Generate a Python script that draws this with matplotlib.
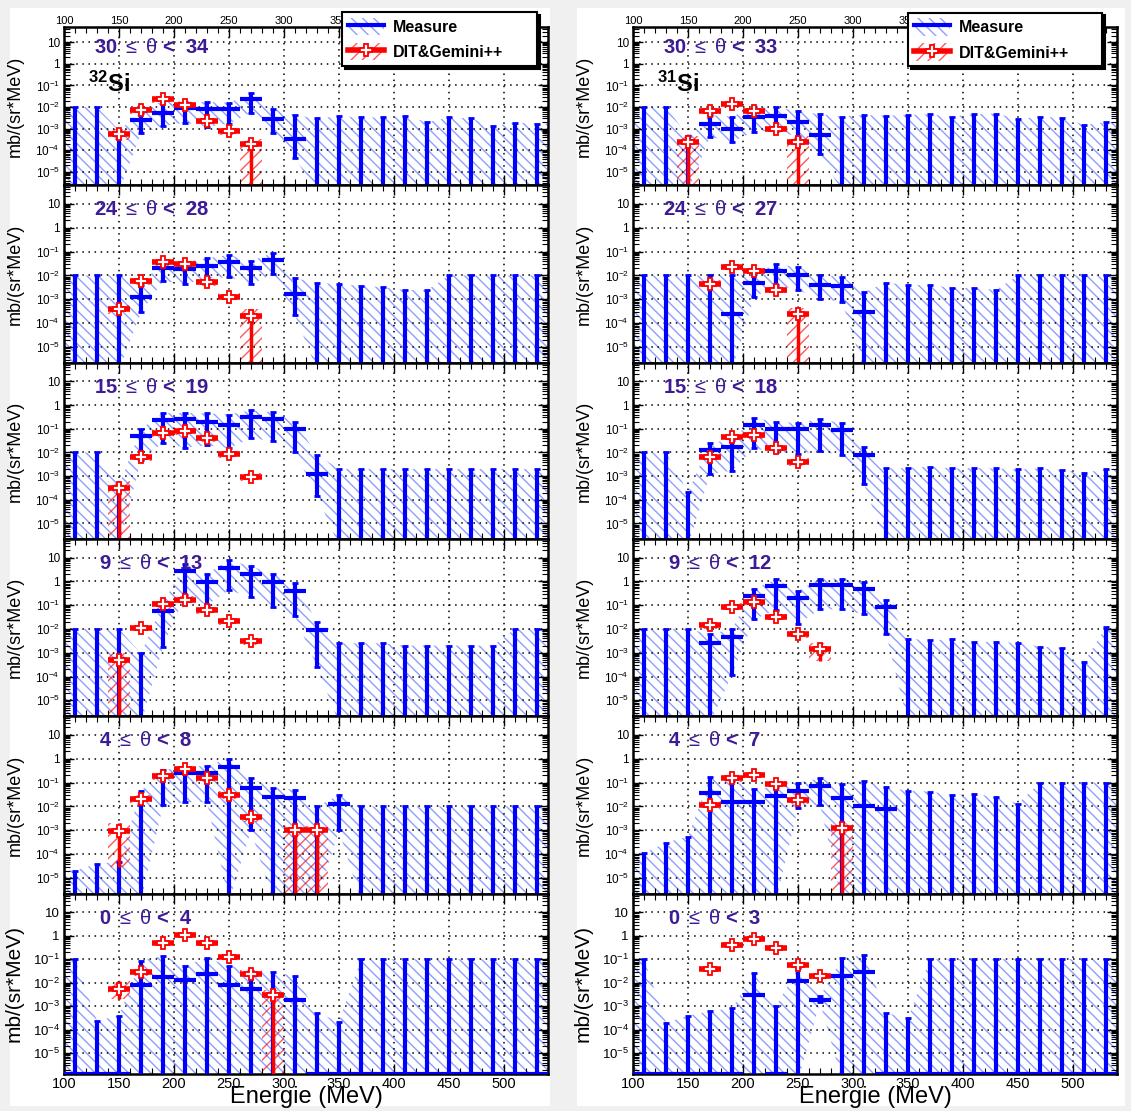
import numpy as np
import matplotlib
matplotlib.use('Agg')
import matplotlib.pyplot as plt
from matplotlib.patches import Patch, Rectangle
from matplotlib.lines import Line2D
from matplotlib.ticker import FixedLocator, LogLocator, FuncFormatter, MultipleLocator, NullFormatter

plt.rcParams['font.family'] = ['Liberation Sans', 'DejaVu Sans']
plt.rcParams['mathtext.fontset'] = 'custom'
plt.rcParams['mathtext.rm'] = 'Liberation Sans'
plt.rcParams['mathtext.it'] = 'Liberation Sans'
plt.rcParams['mathtext.bf'] = 'Liberation Sans:bold'
plt.rcParams['hatch.linewidth'] = 1.0

# bin centers (20 MeV bins from 100 to 540 MeV)
energy = np.arange(110, 540, 20)

# ---------------- 32Si (left column) ----------------
# 30 <= theta < 34
l1_val = [0, 0, 0, 2.4e-3, 5.5e-3, 8.7e-3, 8.5e-3, 7.8e-3, 2.3e-2, 2.7e-3, 3.5e-4, 0, 0, 0, 0, 0, 0, 0, 0, 0, 0, 0]
l1_lo = [0, 0, 0, 6e-4, 1.3e-3, 1.9e-3, 1.2e-3, 1.7e-3, 5.5e-3, 6e-4, 4.2e-5, 0, 0, 0, 0, 0, 0, 0, 0, 0, 0, 0]
l1_hi = [1e-2, 1e-2, 8.5e-4, 5.5e-3, 2.1e-2, 1.8e-2, 1.7e-2, 1.6e-2, 4.3e-2, 8.3e-3, 4.2e-3,
         3e-3, 3.8e-3, 3.3e-3, 3.3e-3, 4e-3, 2e-3, 3.3e-3, 3e-3, 1.3e-3, 1.9e-3, 1.7e-3]
l1_rx = [150, 170, 190, 210, 230, 250, 270]
l1_rv = [5.6e-4, 7.2e-3, 2.3e-2, 1.2e-2, 2.3e-3, 7.7e-4, 1.9e-4]
l1_rlo = [3e-4, 5e-3, 1.6e-2, 8e-3, 1.6e-3, 5e-4, 0]
l1_rhi = [1e-3, 1e-2, 3e-2, 1.6e-2, 3.2e-3, 1.1e-3, 3.5e-4]

# 24 <= theta < 28
l2_val = [0, 0, 0, 1.2e-3, 2.1e-2, 1.8e-2, 2.5e-2, 3.7e-2, 2e-2, 4.6e-2, 1.6e-3, 0, 0, 0, 0, 0, 0, 0, 0, 0, 0, 0]
l2_lo = [0, 0, 0, 2.9e-4, 5.8e-3, 4.4e-3, 7.5e-3, 8.5e-3, 4.4e-3, 1.1e-2, 2.2e-4, 0, 0, 0, 0, 0, 0, 0, 0, 0, 0, 0]
l2_hi = [1e-2, 1e-2, 1e-2, 3.9e-3, 4e-2, 3.6e-2, 5.2e-2, 7.2e-2, 4e-2, 8.8e-2, 7.5e-3,
         5e-3, 4.2e-3, 3.8e-3, 3.2e-3, 2.5e-3, 2.4e-3, 1e-2, 1e-2, 1e-2, 1e-2, 1e-2]
l2_rx = [150, 170, 190, 210, 230, 250, 270]
l2_rv = [4.1e-4, 5.8e-3, 3.6e-2, 2.9e-2, 5.2e-3, 1.3e-3, 2.1e-4]
l2_rlo = [2.5e-4, 4e-3, 2.6e-2, 2e-2, 3.8e-3, 9e-4, 0]
l2_rhi = [6e-4, 8e-3, 5e-2, 4e-2, 7e-3, 1.8e-3, 4e-4]

# 15 <= theta < 19
l3_val = [0, 0, 0, 5.1e-2, 0.245, 0.25, 0.2, 0.15, 0.32, 0.25, 0.1, 1.2e-3, 0, 0, 0, 0, 0, 0, 0, 0, 0, 0]
l3_lo = [0, 0, 0, 4.9e-3, 2.6e-2, 1.6e-2, 2e-2, 1.5e-2, 4e-2, 3e-2, 1e-2, 1.5e-4, 0, 0, 0, 0, 0, 0, 0, 0, 0, 0]
l3_hi = [1e-2, 1e-2, 4e-4, 0.1, 0.46, 0.46, 0.45, 0.4, 0.6, 0.5, 0.2, 8e-3,
         2e-3, 2e-3, 2e-3, 2e-3, 2e-3, 2e-3, 2e-3, 2e-3, 2e-3, 2e-3]
l3_rx = [150, 170, 190, 210, 230, 250, 270]
l3_rv = [3e-4, 6.6e-3, 6.8e-2, 8e-2, 4e-2, 8.5e-3, 9e-4]
l3_rlo = [0, 4.5e-3, 4.5e-2, 5.5e-2, 2.8e-2, 6e-3, 6e-4]
l3_rhi = [6e-4, 9e-3, 9e-2, 0.11, 5.5e-2, 1.2e-2, 1.3e-3]

# 9 <= theta < 13
l4_val = [0, 0, 0, 0, 5.6e-2, 2.8, 0.95, 3.8, 2.1, 0.98, 0.39, 8.9e-3, 0, 0, 0, 0, 0, 0, 0, 0, 0, 0]
l4_lo = [0, 0, 0, 0, 1.8e-3, 0.26, 0.1, 0.43, 0.21, 0.085, 0.035, 2.6e-4, 0, 0, 0, 0, 0, 0, 0, 0, 0, 0]
l4_hi = [1e-2, 1e-2, 1e-2, 9.3e-4, 0.12, 5.2, 2.1, 7.7, 4.3, 2.0, 0.82, 2e-2,
         2.5e-3, 2.5e-3, 2.5e-3, 2e-3, 2e-3, 2e-3, 2e-3, 2e-3, 1e-2, 1e-2]
l4_rx = [150, 170, 190, 210, 230, 250, 270]
l4_rv = [4.9e-4, 1.1e-2, 0.107, 0.17, 6e-2, 2.1e-2, 3.1e-3]
l4_rlo = [0, 8e-3, 7e-2, 0.12, 4.2e-2, 1.5e-2, 2.2e-3]
l4_rhi = [1e-3, 1.5e-2, 0.15, 0.24, 8e-2, 2.9e-2, 4.3e-3]

# 4 <= theta < 8
l5_val = [0, 0, 0, 2e-2, 0.18, 0.25, 0.26, 0.45, 6e-2, 2.5e-2, 2.2e-2, 0, 1.3e-2, 0, 0, 0, 0, 0, 0, 0, 0, 0]
l5_lo = [0, 0, 0, 0, 1.1e-2, 1.5e-2, 1.5e-2, 0, 1e-3, 0, 0, 0, 1e-3, 0, 0, 0, 0, 0, 0, 0, 0, 0]
l5_hi = [2.1e-5, 4e-5, 5e-5, 4.5e-2, 0.33, 0.45, 0.5, 1.0, 0.15, 6e-2, 5e-2, 1e-2,
         3e-2, 1e-2, 1e-2, 1e-2, 1e-2, 1e-2, 1e-2, 1e-2, 1e-2, 1e-2]
l5_rx = [150, 170, 190, 210, 230, 250, 270, 310, 330]
l5_rv = [9.8e-4, 2e-2, 0.19, 0.35, 0.15, 3e-2, 3.5e-3, 1e-3, 1e-3]
l5_rlo = [3e-5, 1.4e-2, 0.13, 0.25, 0.1, 2e-2, 2.3e-3, 0, 0]
l5_rhi = [2e-3, 3e-2, 0.27, 0.5, 0.21, 4.3e-2, 5e-3, 1.5e-3, 1.5e-3]

# 0 <= theta < 4
l6_val = [0, 0, 0, 7.8e-3, 1.7e-2, 1.25e-2, 2.4e-2, 8e-3, 5.6e-3, 3e-3, 1.8e-3, 0, 0, 0, 0, 0, 0, 0, 0, 0, 0, 0]
l6_lo = [0] * 22
l6_hi = [0.1, 2.4e-4, 4e-4, 8.7e-2, 0.14, 5.4e-2, 0.11, 5.4e-2, 3.3e-2, 2.8e-2, 2e-2, 5.2e-4,
         2.2e-4, 0.1, 0.1, 0.1, 0.1, 0.1, 0.1, 0.1, 0.1, 0.1]
l6_rx = [150, 170, 190, 210, 230, 250, 270, 290]
l6_rv = [5.6e-3, 2.8e-2, 0.5, 1.05, 0.47, 0.12, 2.4e-2, 3.1e-3]
l6_rlo = [2.1e-3, 2e-2, 0.4, 0.85, 0.38, 9e-2, 1.7e-2, 0]
l6_rhi = [1.2e-2, 4e-2, 0.62, 1.3, 0.58, 0.16, 3.4e-2, 5e-3]

# ---------------- 31Si (right column) ----------------
# 30 <= theta < 33
r1_val = [0, 0, 0, 1.7e-3, 1e-3, 3.3e-3, 4e-3, 2e-3, 5e-4, 0, 0, 0, 0, 0, 0, 0, 0, 0, 0, 0, 0, 0]
r1_lo = [0, 0, 0, 4.2e-4, 2.5e-4, 7.2e-4, 8e-4, 4.2e-4, 6.6e-5, 0, 0, 0, 0, 0, 0, 0, 0, 0, 0, 0, 0, 0]
r1_hi = [1e-2, 1e-2, 4.5e-4, 4.3e-3, 3.6e-3, 1e-2, 1e-2, 6.5e-3, 4.6e-3, 3.6e-3, 4.3e-3,
         4e-3, 4.3e-3, 4.6e-3, 3.6e-3, 4.7e-3, 5e-3, 2.8e-3, 3.6e-3, 3.2e-3, 1.5e-3, 2e-3]
r1_rx = [150, 170, 190, 210, 230, 250]
r1_rv = [2.5e-4, 6.8e-3, 1.4e-2, 6.8e-3, 1e-3, 2.5e-4]
r1_rlo = [0, 5e-3, 1e-2, 5e-3, 7e-4, 0]
r1_rhi = [4.5e-4, 9e-3, 1.9e-2, 9e-3, 1.4e-3, 4.5e-4]

# 24 <= theta < 27
r2_val = [0, 0, 0, 0, 2.4e-4, 5e-3, 1.5e-2, 1e-2, 4e-3, 3.5e-3, 3e-4, 0, 0, 0, 0, 0, 0, 0, 0, 0, 0, 0]
r2_lo = [0, 0, 0, 0, 0, 1.2e-3, 4e-3, 2.5e-3, 1e-3, 8e-4, 0, 0, 0, 0, 0, 0, 0, 0, 0, 0, 0, 0]
r2_hi = [1e-2, 1e-2, 1e-2, 1e-2, 1e-2, 1.2e-2, 3e-2, 2.2e-2, 1e-2, 9e-3, 2e-3,
         5e-3, 4e-3, 4e-3, 3e-3, 3e-3, 2.5e-3, 1e-2, 1e-2, 1e-2, 1e-2, 1e-2]
r2_rx = [170, 190, 210, 230, 250]
r2_rv = [4.5e-3, 2.3e-2, 1.5e-2, 2.5e-3, 2.5e-4]
r2_rlo = [3.2e-3, 1.7e-2, 1.1e-2, 1.8e-3, 0]
r2_rhi = [6.2e-3, 3.1e-2, 2e-2, 3.4e-3, 4.5e-4]

# 15 <= theta < 18
r3_val = [0, 0, 0, 1.3e-2, 1.7e-2, 0.14, 0.1, 0.095, 0.14, 0.085, 7.5e-3, 0, 0, 0, 0, 0, 0, 0, 0, 0, 0, 0]
r3_lo = [0, 0, 0, 1.2e-3, 1.7e-3, 1.5e-2, 1e-2, 9e-3, 1.1e-2, 7.8e-3, 4.8e-4, 0, 0, 0, 0, 0, 0, 0, 0, 0, 0, 0]
r3_hi = [1e-2, 1e-2, 2.1e-4, 2.6e-2, 3.3e-2, 0.29, 0.19, 0.18, 0.26, 0.17, 1.7e-2,
         2.1e-3, 2.2e-3, 2.5e-3, 2.1e-3, 2.2e-3, 2.1e-3, 1.9e-3, 2.1e-3, 1.8e-3, 1.4e-3, 1.9e-3]
r3_rx = [170, 190, 210, 230, 250]
r3_rv = [6.6e-3, 4.6e-2, 5.4e-2, 1.5e-2, 4e-3]
r3_rlo = [4.6e-3, 3.3e-2, 3.8e-2, 1.1e-2, 2.8e-3]
r3_rhi = [9e-3, 6.3e-2, 7.4e-2, 2.1e-2, 5.6e-3]

# 9 <= theta < 12
r4_val = [0, 0, 0, 2.5e-3, 4.6e-3, 0.24, 0.63, 0.19, 0.69, 0.69, 0.46, 8.2e-2, 0, 0, 0, 0, 0, 0, 0, 0, 0, 0]
r4_lo = [0, 0, 0, 0, 1.2e-4, 2.5e-2, 6.2e-2, 1.6e-2, 6.6e-2, 6.6e-2, 4.1e-2, 6.4e-3, 0, 0, 0, 0, 0, 0, 0, 0, 0, 0]
r4_hi = [1e-2, 1e-2, 1e-2, 5.9e-3, 1e-2, 0.49, 1.2, 0.39, 1.3, 1.3, 0.93, 0.17,
         3.9e-3, 3.3e-3, 3.7e-3, 2.9e-3, 2.8e-3, 2.6e-3, 1.8e-3, 1.6e-3, 4e-4, 1.2e-2]
r4_rx = [170, 190, 210, 230, 250, 270]
r4_rv = [1.4e-2, 8.5e-2, 0.13, 3.2e-2, 5.9e-3, 1.5e-3]
r4_rlo = [1e-2, 6e-2, 9e-2, 2.3e-2, 4.2e-3, 4.5e-4]
r4_rhi = [2e-2, 0.12, 0.18, 4.4e-2, 8.2e-3, 2.6e-3]

# 4 <= theta < 7
r5_val = [0, 0, 0, 3.7e-2, 1.6e-2, 1.5e-2, 2.7e-2, 4.5e-2, 7.2e-2, 2.2e-2, 1.05e-2, 8.1e-3, 0, 0, 0, 0, 0, 0, 0, 0, 0, 0]
r5_lo = [0, 0, 0, 0, 0, 0, 0, 9e-3, 1.2e-2, 0, 0, 0, 0, 0, 0, 0, 0, 0, 0, 0, 0, 0]
r5_hi = [1.1e-4, 3.1e-4, 5.5e-4, 0.17, 0.12, 5.3e-2, 6.6e-2, 0.1, 0.15, 9e-2, 0.12, 6.6e-2,
         4.5e-2, 4.2e-2, 3e-2, 3.2e-2, 2.6e-2, 1.3e-2, 0.1, 0.1, 0.1, 0.1]
r5_rx = [170, 190, 210, 230, 250, 290]
r5_rv = [1.2e-2, 0.15, 0.21, 9e-2, 1.8e-2, 1.3e-3]
r5_rlo = [8.5e-3, 0.11, 0.15, 6.5e-2, 1.3e-2, 0]
r5_rhi = [1.7e-2, 0.2, 0.28, 0.12, 2.5e-2, 1.8e-3]

# 0 <= theta < 3
r6_val = [0, 0, 0, 0, 0, 3.1e-3, 0, 1.2e-2, 1.8e-3, 1.9e-2, 2.9e-2, 0, 0, 0, 0, 0, 0, 0, 0, 0, 0, 0]
r6_lo = [0, 0, 0, 0, 0, 0, 0, 0, 1.5e-3, 0, 0, 0, 0, 0, 0, 0, 0, 0, 0, 0, 0, 0]
r6_hi = [0.1, 2e-4, 3.9e-4, 6.3e-4, 8e-4, 2.5e-2, 1e-3, 4.2e-2, 2.6e-3, 0.11, 0.15, 5.2e-4,
         3e-4, 0.1, 0.1, 0.1, 0.1, 0.1, 0.1, 0.1, 0.1, 0.1]
r6_rx = [170, 190, 210, 230, 250, 270]
r6_rv = [3.8e-2, 0.4, 0.76, 0.31, 5.8e-2, 2e-2]
r6_rlo = [2.8e-2, 0.31, 0.6, 0.24, 4.3e-2, 1.5e-2]
r6_rhi = [5e-2, 0.52, 0.95, 0.4, 7.6e-2, 2.7e-2]

left_theta = [(30, 34), (24, 28), (15, 19), (9, 13), (4, 8), (0, 4)]
right_theta = [(30, 33), (24, 27), (15, 18), (9, 12), (4, 7), (0, 3)]

left_panels = [
    (l1_val, l1_lo, l1_hi, l1_rx, l1_rv, l1_rlo, l1_rhi),
    (l2_val, l2_lo, l2_hi, l2_rx, l2_rv, l2_rlo, l2_rhi),
    (l3_val, l3_lo, l3_hi, l3_rx, l3_rv, l3_rlo, l3_rhi),
    (l4_val, l4_lo, l4_hi, l4_rx, l4_rv, l4_rlo, l4_rhi),
    (l5_val, l5_lo, l5_hi, l5_rx, l5_rv, l5_rlo, l5_rhi),
    (l6_val, l6_lo, l6_hi, l6_rx, l6_rv, l6_rlo, l6_rhi),
]
right_panels = [
    (r1_val, r1_lo, r1_hi, r1_rx, r1_rv, r1_rlo, r1_rhi),
    (r2_val, r2_lo, r2_hi, r2_rx, r2_rv, r2_rlo, r2_rhi),
    (r3_val, r3_lo, r3_hi, r3_rx, r3_rv, r3_rlo, r3_rhi),
    (r4_val, r4_lo, r4_hi, r4_rx, r4_rv, r4_rlo, r4_rhi),
    (r5_val, r5_lo, r5_hi, r5_rx, r5_rv, r5_rlo, r5_rhi),
    (r6_val, r6_lo, r6_hi, r6_rx, r6_rv, r6_rlo, r6_rhi),
]

W, H = 1131, 1111
BLUE = '#0000ff'
RED = '#ff0000'
HATCH_BLUE = '#3050ff'
THETA_COLOR = '#3d1a96'
HALF_BIN = 10
TINY = 1e-12


def ytick_label(v, pos):
    e = int(round(np.log10(v)))
    if e == 1:
        return '10'
    if e == 0:
        return '1'
    return r'$10^{%d}$' % e


def draw_panel(ax, data, ylim, theta, row):
    val, lo, hi, rx, rv, rlo, rhi = [np.asarray(d, dtype=float) for d in data]
    floor = ylim[0]

    # hatched error band of the measurement
    xb = np.concatenate([[energy[0] - HALF_BIN], energy, [energy[-1] + HALF_BIN]])
    up = np.concatenate([[hi[0]], hi, [hi[-1]]])
    dn = np.maximum(np.concatenate([[lo[0]], lo, [lo[-1]]]), floor * 0.5)
    ax.fill_between(xb, dn, up, facecolor='none', edgecolor=HATCH_BLUE, hatch='\\\\\\',
                    linewidth=0, alpha=0.55, zorder=1)

    # hatched band of the model, one box per bin
    for x, a, b in zip(rx, rlo, rhi):
        ax.fill_between([x - HALF_BIN, x + HALF_BIN], max(a, floor * 0.5), b, facecolor='none',
                        edgecolor=RED, hatch='///', linewidth=0, alpha=0.65, zorder=1.5)

    # empty bins: upper limits only
    empty = val == 0
    ax.errorbar(energy[empty], hi[empty], yerr=[hi[empty] - TINY, np.zeros(empty.sum())],
                fmt='none', ecolor=BLUE, elinewidth=3, capsize=2, capthick=2, zorder=3)
    if row == 5:
        ax.errorbar(energy[empty], np.full(empty.sum(), floor * 1.02), xerr=HALF_BIN,
                    fmt='none', ecolor=BLUE, elinewidth=3, zorder=3)

    full = ~empty
    lo_f = np.where(lo[full] > 0, lo[full], TINY)
    ax.errorbar(energy[full], val[full], xerr=HALF_BIN, fmt='none', ecolor=BLUE,
                elinewidth=3, zorder=3)
    ax.errorbar(energy[full], val[full], yerr=[val[full] - lo_f, hi[full] - val[full]],
                fmt='none', ecolor=BLUE, elinewidth=3, capsize=2, capthick=2, zorder=3)

    # model points
    rlo_f = np.where(rlo > 0, rlo, TINY)
    ax.errorbar(rx, rv, xerr=HALF_BIN, fmt='none', ecolor=RED, elinewidth=4, zorder=4)
    ax.errorbar(rx, rv, yerr=[rv - rlo_f, rhi - rv], fmt='P', color=RED, ecolor=RED,
                elinewidth=2.5, mfc='white', mec=RED, ms=8.5, mew=1.3, zorder=5)

    ax.set_yscale('log')
    ax.set_xlim(100, 540)
    ax.set_ylim(*ylim)

    ax.yaxis.set_major_locator(FixedLocator([10.0 ** e for e in range(-5, 2)]))
    ax.yaxis.set_minor_locator(LogLocator(base=10, subs=np.arange(2, 10), numticks=20))
    ax.yaxis.set_major_formatter(FuncFormatter(ytick_label))
    ax.yaxis.set_minor_formatter(NullFormatter())
    ax.xaxis.set_major_locator(MultipleLocator(50))
    ax.xaxis.set_minor_locator(MultipleLocator(10))

    ylab_size = 9.5 if row == 5 else 8.5
    ax.tick_params(axis='y', which='both', direction='in', left=True, right=True,
                   labelsize=ylab_size, pad=3)
    ax.tick_params(axis='x', which='both', direction='in', top=True, bottom=True)
    ax.tick_params(which='major', length=7, width=1.0)
    ax.tick_params(which='minor', length=4, width=0.8)
    if row == 0:
        ax.tick_params(axis='x', labeltop=True, labelbottom=False, labelsize=8, pad=1)
    elif row == 5:
        ax.tick_params(axis='x', labeltop=False, labelbottom=True, labelsize=10.5, pad=2)
    else:
        ax.tick_params(axis='x', labeltop=False, labelbottom=False)

    ax.grid(True, which='major', color='black', linestyle=(0, (1, 3)), linewidth=1.1)
    for s in ax.spines.values():
        s.set_linewidth(1.8)

    ax.set_ylabel('mb/(sr*MeV)', fontsize=15 if row == 5 else 13)
    ax.yaxis.set_label_coords(-0.083, 0.5)

    lo_t, hi_t = theta
    lo_s = str(lo_t) if lo_t >= 10 else ' ' + str(lo_t)
    ax.text(127, 3.3, f'{lo_s} $\\leq$ $\\theta$ <  {hi_t}', color=THETA_COLOR, fontsize=14.5,
            fontweight='bold', ha='left', va='baseline', zorder=6)


fig = plt.figure(figsize=(W / 100, H / 100), dpi=100, facecolor='#f0f0f0')
fig.patches.append(Rectangle((10 / W, 1 - 1106 / H), 540 / W, 1098 / H, transform=fig.transFigure,
                             facecolor='white', edgecolor='none', zorder=-10))
fig.patches.append(Rectangle((577 / W, 1 - 1106 / H), 548 / W, 1098 / H, transform=fig.transFigure,
                             facecolor='white', edgecolor='none', zorder=-10))

row_top = [27, 185, 363, 539, 716, 894]
row_bot = [185, 363, 539, 716, 894, 1074]
row_ylim = [(2.5e-6, 50), (2.2e-6, 60), (2.2e-6, 60), (2.2e-6, 60), (2.2e-6, 60), (1.3e-6, 60)]
col_x = [(64, 548), (633, 1117)]

legend_handles = [
    (Patch(facecolor='white', edgecolor=HATCH_BLUE, hatch='\\\\\\', linewidth=0, alpha=0.55),
     Line2D([], [], color=BLUE, lw=3)),
    (Patch(facecolor='white', edgecolor=RED, hatch='///', linewidth=0, alpha=0.65),
     Line2D([], [], color=RED, lw=4, marker='P', mfc='white', mec=RED, ms=9, mew=1.3)),
]
legend_boxes = [(334, 11, 545, 67), (900, 11, 1110, 68)]
nuclei = [r'$^{\mathbf{32}}\mathbf{Si}$', r'$^{\mathbf{31}}\mathbf{Si}$']

for c, (panels, thetas) in enumerate([(left_panels, left_theta), (right_panels, right_theta)]):
    x0, x1 = col_x[c]
    for r in range(6):
        ax = fig.add_axes([x0 / W, 1 - row_bot[r] / H, (x1 - x0) / W, (row_bot[r] - row_top[r]) / H])
        draw_panel(ax, panels[r], row_ylim[r], thetas[r], r)
        if r == 0:
            ax.text(122, 0.05, nuclei[c], fontsize=17, color='black', ha='left', va='baseline', zorder=6)
            bx0, by0, bx1, by1 = legend_boxes[c]
            leg = ax.legend(legend_handles, ['Measure', 'DIT&Gemini++'],
                            bbox_to_anchor=(bx0 / W, 1 - by1 / H, (bx1 - bx0) / W, (by1 - by0) / H),
                            bbox_transform=fig.transFigure, loc='center', mode='expand',
                            fancybox=False, shadow={'color': 'black', 'alpha': 1},
                            edgecolor='black', framealpha=1, handlelength=2.3, handleheight=1.3,
                            handletextpad=0.55, labelspacing=0.5, borderpad=0.35,
                            prop={'weight': 'bold', 'size': 11.5})
            leg.get_frame().set_linewidth(1.5)
            leg.set_zorder(10)
        if r == 5:
            ax.set_xlabel('Energie (MeV)', fontsize=17)
            ax.xaxis.set_label_coords(0.5, -0.065)

fig.savefig('out.png', dpi=100, facecolor=fig.get_facecolor())
